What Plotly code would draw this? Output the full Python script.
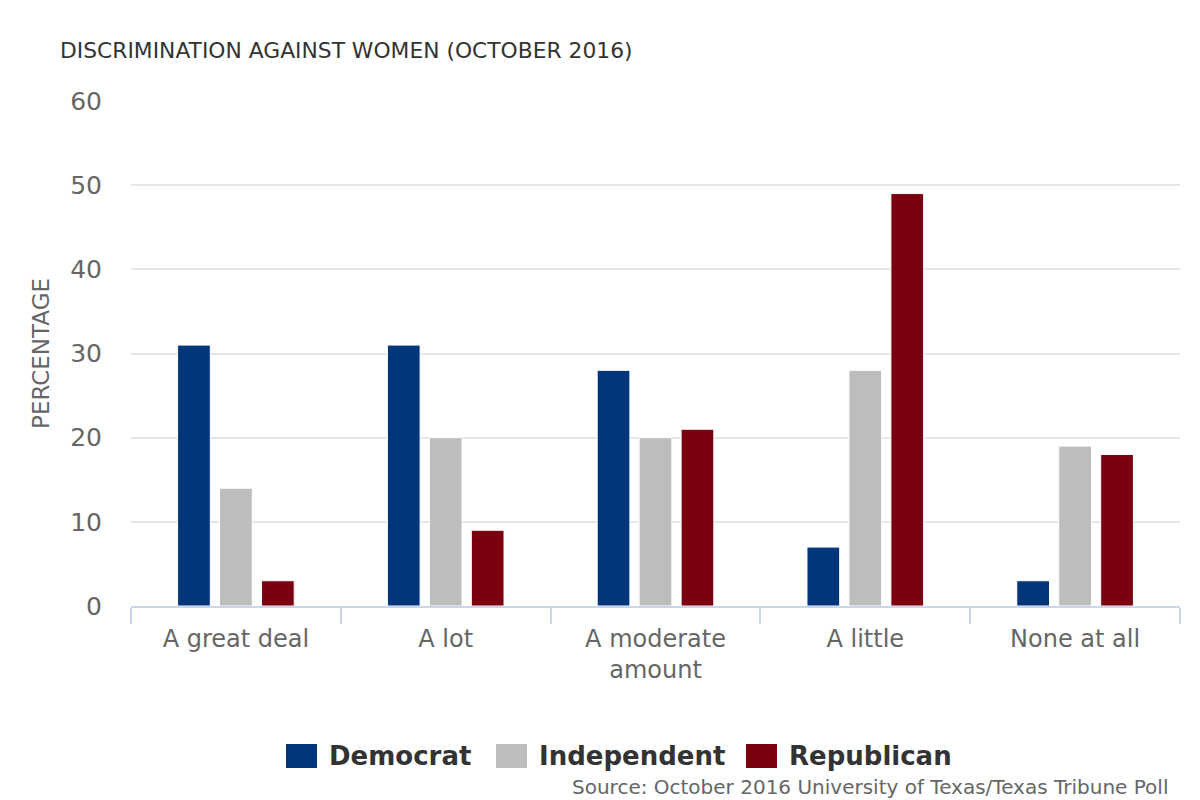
import plotly.graph_objects as go

categories = ["A great deal", "A lot", "A moderate<br>amount", "A little", "None at all"]
democrat = [31, 31, 28, 7, 3]
independent = [14, 20, 20, 28, 19]
republican = [3, 9, 21, 49, 18]
series_names = ["Democrat", "Independent", "Republican"]
colors = ["#03357a", "#bdbdbd", "#7b0010"]
y_ticks = [0, 10, 20, 30, 40, 50, 60]

# page layout (the page body adds an 8px offset)
OFF = 8
PLOT_L, PLOT_R, PLOT_T, PLOT_B = 131, 1180, 101, 606
W, H = 1192, 792


def px(x):
    return (x - PLOT_L) / (PLOT_R - PLOT_L)


def py(y):
    return (PLOT_B - y) / (PLOT_B - PLOT_T)


fig = go.Figure()
for name, vals, col in zip(series_names, [democrat, independent, republican], colors):
    fig.add_trace(go.Bar(
        x=categories, y=vals, name=name, showlegend=False,
        marker=dict(color=col, line=dict(color="#ffffff", width=1)),
    ))

fig.update_layout(
    width=W, height=H,
    margin=dict(l=PLOT_L - OFF, r=OFF + W - PLOT_R, t=PLOT_T - OFF, b=OFF + H - PLOT_B),
    paper_bgcolor="#ffffff", plot_bgcolor="#ffffff",
    font=dict(family="DejaVu Sans", color="#666666"),
    barmode="group", bargap=0.4, bargroupgap=0.22,
    title=dict(text="DISCRIMINATION AGAINST WOMEN (OCTOBER 2016)",
               x=(60 - OFF) / W, xanchor="left", xref="container",
               y=1 - (50 - OFF) / H, yanchor="middle",
               font=dict(size=21.8, color="#333333", family="DejaVu Sans")),
    showlegend=False,
)
fig.update_xaxes(
    showline=True, linecolor="#ccd6eb", linewidth=2,
    ticks="outside", tickson="boundaries", ticklen=16, tickcolor="#ccd6eb", tickwidth=2,
    tickfont=dict(size=24, color="#666666"), ticklabelstandoff=10,
    showgrid=False,
)
fig.update_yaxes(
    range=[0, 60], tickvals=y_ticks, showgrid=True, gridcolor="#e6e6e6", gridwidth=2,
    zeroline=False, showline=False, ticks="",
    tickfont=dict(size=25, color="#666666"), ticklabelstandoff=28,
    title=dict(text="PERCENTAGE", font=dict(size=23, color="#666666"), standoff=14),
)

# custom legend (large square swatches like the original)
legend_sq_x = [286, 496, 746]
for name, col, sx in zip(series_names, colors, legend_sq_x):
    fig.add_shape(type="rect", xref="paper", yref="paper",
                  x0=px(sx), x1=px(sx + 31), y0=py(768), y1=py(744),
                  fillcolor=col, line=dict(width=0))
    fig.add_annotation(text="<b>" + name + "</b>", xref="paper", yref="paper",
                       x=px(sx + 41), xanchor="left", y=py(756), yanchor="middle",
                       showarrow=False,
                       font=dict(size=26, color="#333333", family="DejaVu Sans"))

fig.add_annotation(
    text="Source: October 2016 University of Texas/Texas Tribune Poll",
    xref="paper", yref="paper", x=px(1170), xanchor="right",
    y=py(787), yanchor="middle", showarrow=False,
    font=dict(size=20, color="#666666", family="DejaVu Sans"),
)
fig.write_html("out.html")
